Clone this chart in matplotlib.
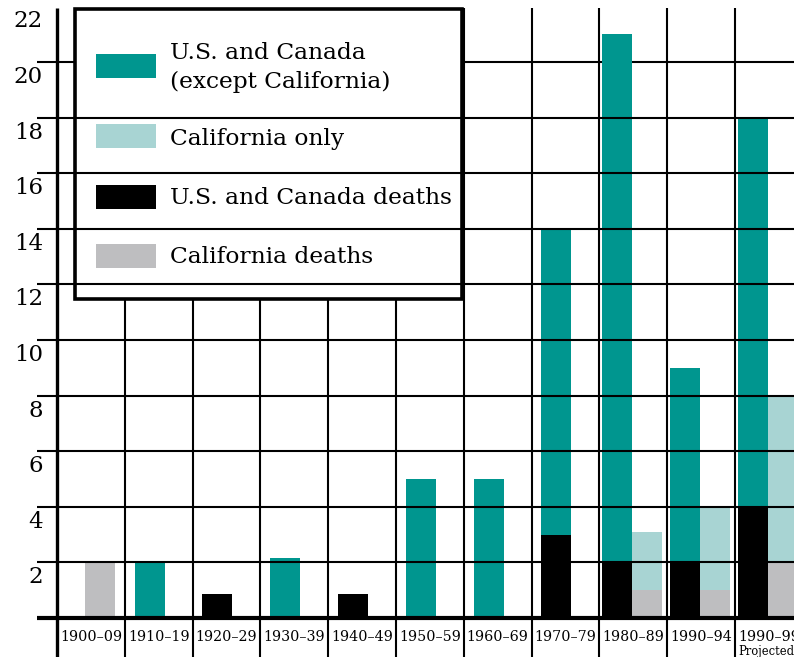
import matplotlib
matplotlib.use("Agg")
import matplotlib.pyplot as plt
from matplotlib.patches import Rectangle

# ---------------- data ----------------
categories = ['1900–09', '1910–19', '1920–29', '1930–39', '1940–49', '1950–59',
              '1960–69', '1970–79', '1980–89', '1990–94', '1990–99']
us_cases   = [0, 2, 0.85, 2.15, 0.85, 5, 5, 14, 21, 9, 18]
us_deaths  = [0, 0, 0.85, 0, 0.85, 0, 0, 3, 2, 2, 4]
cal_cases  = [2, 0, 0, 0, 0, 0, 0, 0, 3.1, 4, 8]
cal_deaths = [2, 0, 0, 0, 0, 0, 0, 0, 1, 1, 2]
y_ticks = [2, 4, 6, 8, 10, 12, 14, 16, 18, 20, 22]
legend_labels = ['U.S. and Canada\n(except California)', 'California only',
                 'U.S. and Canada deaths', 'California deaths']
projected_note = 'Projected'

# ---------------- style ----------------
TEAL = '#00968f'
LTEAL = '#a8d4d3'
BLACK = '#000000'
GRAY = '#bebec0'
legend_colors = [TEAL, LTEAL, BLACK, GRAY]
FONT = 'DejaVu Serif'

W, H = 794, 657
fig = plt.figure(figsize=(W / 100, H / 100), dpi=100)
ax = fig.add_axes([0, 0, 1, 1])
ax.axis('off')

# pixel -> data helpers (layout only)
X0, CW = 57.0, 67.8
Y0, UH = 618.0, 27.8
def X(px):
    return (px - X0) / CW
def Y(py):
    return (Y0 - py) / UH

ax.set_xlim(X(0), X(W))
ax.set_ylim(Y(H), Y(0))

top = Y(8)
bottom = Y(H)
n = len(categories)
bw = 30 / CW

# vertical separators and y axis
for i in range(1, n + 1):
    ax.plot([i, i], [bottom, top], color='black', lw=1.5, zorder=2, solid_capstyle='butt')
ax.plot([0, 0], [bottom, top], color='black', lw=2.4, zorder=6, solid_capstyle='butt')

# horizontal gridlines
leg_l, leg_r, leg_t, leg_b = X(75), X(462), Y(9), Y(299)
for v in y_ticks:
    if v >= 22:
        continue
    if v == 20:
        ax.plot([X(37), leg_l], [v, v], color='black', lw=1.5, zorder=3, solid_capstyle='butt')
        ax.plot([leg_r, X(W)], [v, v], color='black', lw=1.5, zorder=3, solid_capstyle='butt')
    else:
        ax.plot([X(37), X(W)], [v, v], color='black', lw=1.5, zorder=8, solid_capstyle='butt')
ax.plot([X(37), X(W)], [0, 0], color='black', lw=3.0, zorder=9, solid_capstyle='butt')

# bars
for i in range(n):
    has_us = us_cases[i] > 0
    has_cal = cal_cases[i] > 0
    if has_us and has_cal:
        us_left, cal_left = i + 0.04, i + 0.04 + bw
    elif has_us:
        us_left, cal_left = i + 0.145, None
    else:
        us_left, cal_left = None, i + 0.413
    if us_left is not None:
        ax.bar(us_left, us_cases[i], width=bw, align='edge', color=TEAL, zorder=4, lw=0)
        if us_deaths[i] > 0:
            ax.bar(us_left, us_deaths[i], width=bw, align='edge', color=BLACK, zorder=5, lw=0)
    if cal_left is not None:
        ax.bar(cal_left, cal_cases[i], width=bw, align='edge', color=LTEAL, zorder=4, lw=0)
        if cal_deaths[i] > 0:
            ax.bar(cal_left, cal_deaths[i], width=bw, align='edge', color=GRAY, zorder=5, lw=0)

# y tick labels
for v in y_ticks:
    ax.text(X(43), v - 15 / UH, str(v), ha='right', va='center', fontsize=16.5,
            family=FONT, color='black', zorder=10)

# x category labels
for i, lab in enumerate(categories):
    if i == n - 1:
        ax.text(X(738), Y(637), lab, ha='left', va='center', fontsize=10.3,
                family=FONT, color='black', zorder=10)
    else:
        ax.text(i + 0.5, Y(637), lab, ha='center', va='center', fontsize=10.3,
                family=FONT, color='black', zorder=10)
ax.text(X(738), Y(652), projected_note, ha='left', va='center', fontsize=8.3,
        family=FONT, color='black', zorder=10)

# legend box
ax.add_patch(Rectangle((leg_l, leg_b), leg_r - leg_l, leg_t - leg_b, facecolor='white',
                       edgecolor='black', lw=2.6, zorder=7))
patch_tops = [54, 124, 185, 244]
baselines = [59, 145, 204, 263]
for lab, col, pt, bl in zip(legend_labels, legend_colors, patch_tops, baselines):
    ax.add_patch(Rectangle((X(96), Y(pt + 24)), 60 / CW, 24 / UH, facecolor=col,
                           edgecolor='none', zorder=9))
    for k, line in enumerate(lab.split('\n')):
        ax.text(X(170), Y(bl + 29 * k), line, ha='left', va='baseline', fontsize=16.8,
                family=FONT, color='black', zorder=10)

fig.savefig('out.png', dpi=100)
